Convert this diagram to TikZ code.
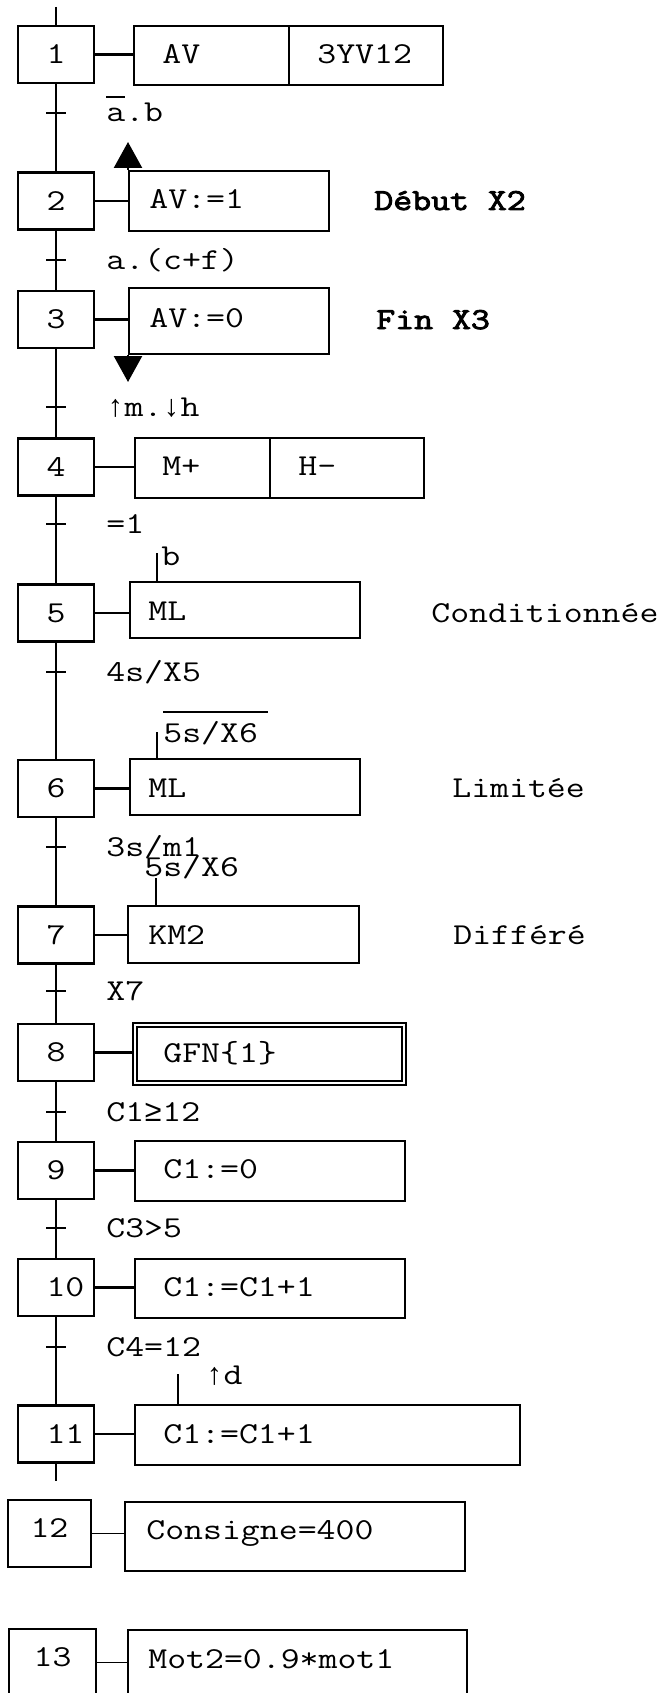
\documentclass[tikz,border=0pt]{standalone}
\usepackage{fontspec}
\usepackage{tikz}
\usetikzlibrary{arrows.meta}
\newfontfamily\cour{Latin Modern Mono}[FakeStretch=1.209]
\newfontfamily\courb{Latin Modern Mono}[FakeStretch=1.209, FakeBold=3]
\newfontfamily\symf{Liberation Mono}
\newcommand\symb[1]{{\symf #1}}
\newdimen\px \px=0.02cm

\tikzset{
  etape/.style={draw, line width=2.4\px, minimum width=76\px, minimum height=57\px, inner sep=0pt},
  act/.style={draw, line width=2.4\px, anchor=north west, inner sep=0pt},
  lbl/.style={anchor=base west, inner sep=0pt},
  trans/.style={line width=2.4\px},
  lien/.style={line width=2.4\px},
  fil/.style={line width=1.3\px},
  evt/.style={line width=2.4\px, -{Triangle[length=0.52cm, width=0.56cm]}},
}

\begin{document}
\begin{tikzpicture}[x=0.02cm, y=-0.02cm,
  every node/.append style={font=\cour\fontsize{17.3pt}{21pt}\selectfont}]
\fill[white] (0,0) rectangle (661,1693);
\useasboundingbox (0,0) rectangle (661,1693);
\clip (0,0) rectangle (661,1693);

% etapes
\node[etape] (s1) at (56,54.5) {1};
\node[etape] (s2) at (56,201) {2};
\node[etape] (s3) at (56,319.5) {3};
\node[etape] (s4) at (56,467) {4};
\node[etape] (s5) at (56,613) {5};
\node[etape] (s6) at (56,788.5) {6};
\node[etape] (s7) at (56,935) {7};
\node[etape] (s8) at (56,1052.5) {8};
\node[etape] (s9) at (56,1170.5) {9};
\node[etape] (s10) at (56,1287.5) {\phantom{0}10};
\node[etape] (s11) at (56,1434) {\phantom{0}11};
\node[etape, minimum width=83\px, minimum height=67\px, text depth=11\px] (s12) at (49.5,1533.5) {12};
\node[etape, minimum width=87\px, minimum height=67\px, text depth=11\px] (s13) at (52.5,1662.5) {13};

\coordinate (h) at (56,7);
\coordinate (b) at (56,1481);
\draw[lien] (h) -- (s1) -- (s2) -- (s3) -- (s4) -- (s5) -- (s6) -- (s7)
  -- (s8) -- (s9) -- (s10) -- (s11) -- (b);

% actions
\node[act, minimum width=154.5\px, minimum height=59\px] (a1) at (133,25) {};
\node[act, minimum width=154.5\px, minimum height=59\px] (a1b) at (287.5,25) {};
\node[act, minimum width=200\px, minimum height=60\px] (a2) at (128,170) {};
\node[act, minimum width=200\px, minimum height=66\px] (a3) at (128,287) {};
\node[act, minimum width=134.5\px, minimum height=60\px] (a4) at (134,437) {};
\node[act, minimum width=154.5\px, minimum height=60\px] (a4b) at (268.5,437) {};
\node[act, minimum width=230\px, minimum height=56\px] (a5) at (129,581) {};
\node[act, minimum width=230\px, minimum height=56\px] (a6) at (129,758) {};
\node[act, minimum width=231\px, minimum height=57\px] (a7) at (127,905) {};
\node[act, double, double distance=2.6\px, line width=1.6\px,
  minimum width=269\px, minimum height=58\px] (a8) at (134,1024) {};
\node[act, minimum width=270\px, minimum height=60\px] (a9) at (134,1140) {};
\node[act, minimum width=270\px, minimum height=59\px] (a10) at (134,1258) {};
\node[act, minimum width=385\px, minimum height=60\px] (a11) at (134,1404) {};
\node[act, minimum width=340\px, minimum height=69\px] (a12) at (124,1501) {};
\node[act, minimum width=339\px, minimum height=69\px] (a13) at (127,1629) {};

\node[lbl] (t1) at (162,64) {AV};
\node[lbl] (t1b) at (317,64) {3YV12};
\node[lbl] (t2) at (149,209) {AV:=1};
\node[lbl] (t3) at (149,327) {AV:=0};
\node[lbl] (t4) at (162,475) {M+};
\node[lbl] (t4b) at (298,475) {H-};
\node[lbl] (t5) at (148,620) {ML};
\node[lbl] (t6) at (148,797) {ML};
\node[lbl] (t7) at (148,944) {KM2};
\node[lbl] (t8) at (163,1062) {GFN\{1\}};
\node[lbl] (t9) at (163,1178) {C1:=0};
\node[lbl] (t10) at (163,1296) {C1:=C1+1};
\node[lbl] (t11) at (163,1443) {C1:=C1+1};
\node[lbl] (t12) at (146,1539) {Consigne=400};
\node[lbl] (t13) at (148,1668) {Mot2=0.9*mot1};

% liaisons etape - action
\draw[lien] (s1.east) -- (s1.east -| a1.west);
\draw[lien] (s2.east) -- (s2.east -| a2.west);
\draw[lien] (s3.east) -- (s3.east -| a3.west);
\draw[lien] (s4.east) -- (s4.east -| a4.west);
\draw[lien] (s5.east) -- (s5.east -| a5.west);
\draw[lien] (s6.east) -- (s6.east -| a6.west);
\draw[lien] (s7.east) -- (s7.east -| a7.west);
\draw[lien] (s8.east) -- (s8.east -| a8.west);
\draw[lien] (s9.east) -- (s9.east -| a9.west);
\draw[lien] (s10.east) -- (s10.east -| a10.west);
\draw[lien] (s11.east) -- (s11.east -| a11.west);
\draw[fil] (s12.east) -- (s12.east -| a12.west);
\draw[fil] (s13.east) -- (s13.east -| a13.west);

% actions sur evenement
\draw[evt] (a2.north west) -- (128,142);
\draw[evt] (a3.south west) -- (128,382);

% transitions
\draw[trans] (46,113) -- (66,113);
\draw[trans] (46,260) -- (66,260);
\draw[trans] (46,407) -- (66,407);
\draw[trans] (46,524) -- (66,524);
\draw[trans] (46,672) -- (66,672);
\draw[trans] (46,847) -- (66,847);
\draw[trans] (46,991) -- (66,991);
\draw[trans] (46,1112) -- (66,1112);
\draw[trans] (46,1228) -- (66,1228);
\draw[trans] (46,1347) -- (66,1347);

\node[lbl] (r1) at (106,122) {a.b};
\draw[fil] ([yshift=25\px]r1.base west) -- ++(19,0);
\node[lbl] (r2) at (106,269) {a.(c+f)};
\node[lbl] (r3) at (106,416) {\symb{↑}m.\symb{↓}h};
\node[lbl] (r4) at (106,533) {=1};
\node[lbl] (r5) at (106,681) {4s/X5};
\node[lbl] (r6) at (106,856) {3s/m1};
\node[lbl] (r7) at (106,1000) {X7};
\node[lbl] (r8) at (106,1121) {C1\symb{≥}12};
\node[lbl] (r9) at (106,1237) {C3>5};
\node[lbl] (r10) at (106,1356) {C4=12};

% conditions et temporisations
\node[lbl] (q5) at (161,565) {b};
\draw[fil] (a5.north west) ++(28,0) -- ++(0,-28);
\node[lbl] (q6) at (163,742) {5s/X6};
\draw[fil] ([yshift=30\px]q6.base west) -- ++(105,0);
\draw[fil] (a6.north west) ++(28,0) -- ++(0,-26);
\node[lbl] (q7) at (144,876) {5s/X6};
\draw[fil] (a7.north west) ++(29,0) -- ++(0,-27);
\node[lbl] (q11) at (205,1384) {\symb{↑}d};
\draw[fil] (a11.north west) ++(44,0) -- ++(0,-30);

% commentaires
\node[lbl] (c2) at (374,210) {\courb Début X2};
\node[lbl] (c3) at (376,329) {\courb Fin X3};
\node[lbl] (c5) at (431,622) {Conditionnée};
\node[lbl] (c6) at (452,797) {Limitée};
\node[lbl] (c7) at (453,944) {Différé};
\end{tikzpicture}
\end{document}
